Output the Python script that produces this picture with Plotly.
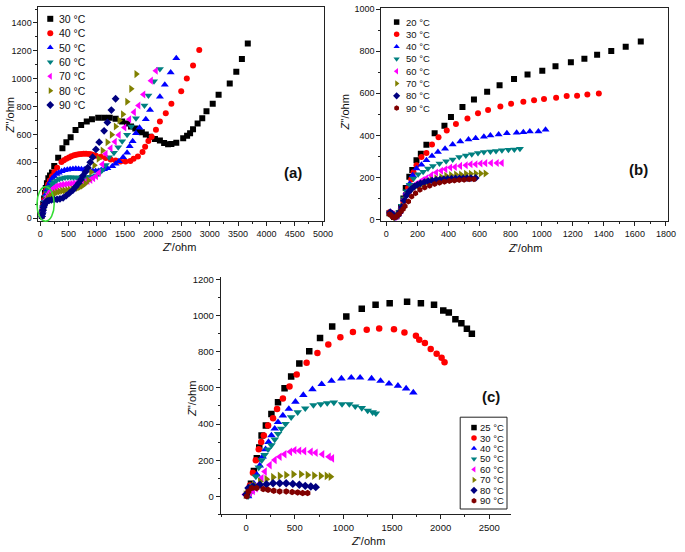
import plotly.graph_objects as go

FONT = "Liberation Sans, Arial, sans-serif"
AX = "#222222"

# ---------------- data: panel (a) ----------------
A_LABELS = ["30 °C", "40 °C", "50 °C", "60 °C", "70 °C", "80 °C", "90 °C"]
A30_X = [25, 35, 45, 55, 70, 85, 100, 120, 145, 175, 209, 249, 319, 394, 464, 539, 626, 725, 824, 916, 1027, 1131, 1230, 1334, 1450, 1537, 1607, 1682, 1740, 1798, 1868, 1943, 2030, 2117, 2192, 2262, 2320, 2407, 2529, 2598, 2651, 2703, 2784, 2866, 2941, 3051, 3155, 3352, 3468, 3567, 3671]
A30_Y = [15, 40, 70, 100, 140, 180, 215, 250, 285, 305, 326, 373, 432, 501, 544, 579, 631, 667, 693, 709, 719, 720, 720, 712, 692, 678, 657, 643, 626, 615, 600, 584, 567, 556, 539, 530, 532, 541, 572, 591, 608, 638, 678, 716, 766, 821, 885, 965, 1050, 1142, 1253]
A40_X = [30, 40, 55, 70, 90, 110, 140, 170, 210, 250, 300, 377, 420, 464, 510, 551, 600, 638, 680, 725, 770, 812, 860, 899, 940, 986, 1073, 1160, 1247, 1334, 1421, 1508, 1595, 1653, 1728, 1810, 1856, 1914, 1972, 2047, 2117, 2221, 2320, 2494, 2593, 2703, 2813]
A40_Y = [20, 50, 90, 130, 170, 200, 240, 270, 300, 330, 360, 402, 415, 425, 435, 444, 450, 454, 458, 460, 462, 462, 460, 458, 452, 447, 440, 430, 420, 412, 405, 405, 410, 425, 442, 473, 511, 553, 584, 634, 693, 752, 820, 910, 1002, 1095, 1206]
A50_X = [35, 45, 60, 80, 100, 125, 150, 180, 215, 250, 290, 330, 380, 430, 480, 530, 580, 630, 680, 730, 780, 830, 880, 930, 980, 1030, 1080, 1130, 1189, 1276, 1334, 1392, 1467, 1537, 1583, 1636, 1694, 1757, 1868, 1943, 2117, 2204, 2308, 2407]
A50_Y = [20, 50, 90, 130, 170, 205, 235, 260, 285, 300, 315, 325, 335, 342, 347, 350, 352, 353, 352, 350, 348, 345, 342, 340, 338, 337, 345, 350, 358, 372, 390, 407, 437, 468, 515, 551, 608, 648, 709, 775, 870, 957, 1045, 1147]
A60_X = [35, 45, 60, 80, 100, 125, 150, 180, 215, 250, 290, 340, 390, 440, 490, 540, 590, 640, 690, 740, 790, 840, 890, 940, 990, 1040, 1100, 1160, 1218, 1305, 1380, 1450, 1537, 1612, 1694, 1844, 1914, 2013, 2117]
A60_Y = [20, 45, 80, 115, 150, 180, 205, 225, 245, 258, 270, 280, 286, 290, 292, 292, 291, 290, 290, 290, 291, 293, 296, 300, 307, 318, 345, 380, 437, 468, 508, 551, 598, 657, 716, 808, 879, 981, 1069]
A70_X = [35, 45, 60, 80, 100, 125, 150, 180, 215, 250, 290, 340, 390, 440, 490, 540, 590, 640, 690, 740, 790, 840, 890, 940, 990, 1040, 1100, 1160, 1247, 1322, 1392, 1491, 1578, 1660, 1740, 1827, 1961, 2047]
A70_Y = [20, 40, 70, 100, 130, 155, 175, 192, 207, 218, 227, 233, 238, 241, 244, 246, 248, 250, 253, 256, 260, 266, 274, 285, 300, 325, 385, 461, 501, 548, 596, 650, 709, 760, 808, 887, 986, 1057]
A80_X = [30, 40, 55, 70, 90, 110, 135, 160, 190, 225, 260, 300, 345, 390, 435, 480, 525, 570, 615, 660, 705, 750, 800, 850, 900, 957, 1032, 1102, 1189, 1264, 1334, 1400, 1462, 1537, 1607, 1699]
A80_Y = [15, 35, 60, 85, 105, 122, 137, 150, 160, 170, 178, 185, 190, 195, 198, 200, 202, 205, 210, 215, 222, 232, 248, 270, 330, 378, 425, 485, 544, 598, 657, 700, 745, 834, 927, 1033]
A90_X = [30, 40, 50, 60, 70, 80, 95, 110, 130, 160, 200, 250, 300, 350, 406, 460, 520, 580, 630, 680, 720, 754, 800, 841, 885, 928, 986, 1044, 1131, 1189, 1259, 1334]
A90_Y = [10, 30, 55, 75, 90, 100, 110, 118, 123, 127, 130, 132, 134, 138, 145, 160, 180, 201, 225, 250, 275, 303, 330, 362, 400, 437, 492, 544, 626, 686, 775, 856]

# ---------------- data: panel (b) ----------------
B_LABELS = ["20 °C", "30 °C", "40 °C", "50 °C", "60 °C", "70 °C", "80 °C", "90 °C"]
B20_X = [20, 35, 50, 65, 80, 95, 110, 125, 148, 167, 194, 222, 258, 311, 374, 416, 490, 564, 649, 729, 822, 909, 1004, 1089, 1188, 1275, 1357, 1448, 1541, 1638]
B20_Y = [30, 25, 12, 15, 30, 60, 100, 150, 203, 235, 282, 313, 355, 410, 446, 488, 535, 571, 607, 639, 668, 689, 707, 729, 748, 764, 783, 801, 822, 847]
B30_X = [20, 35, 50, 65, 80, 95, 110, 125, 140, 160, 175, 194, 226, 258, 294, 336, 389, 448, 522, 590, 655, 734, 803, 882, 951, 1015, 1093, 1161, 1228, 1294, 1368]
B30_Y = [35, 30, 15, 18, 30, 55, 85, 120, 150, 190, 225, 258, 297, 316, 357, 391, 423, 454, 480, 505, 521, 537, 551, 560, 567, 573, 579, 587, 588, 595, 599]
B40_X = [25, 40, 55, 70, 85, 100, 115, 130, 150, 170, 194, 226, 258, 294, 332, 378, 427, 476, 529, 575, 628, 670, 723, 776, 839, 882, 924, 979, 1025]
B40_Y = [35, 28, 15, 20, 35, 60, 95, 130, 170, 210, 243, 261, 282, 302, 321, 336, 357, 371, 380, 387, 394, 399, 404, 410, 413, 415, 419, 419, 427]
B50_X = [25, 40, 55, 70, 85, 100, 115, 130, 150, 175, 205, 237, 268, 300, 342, 385, 427, 469, 512, 550, 590, 628, 670, 706, 744, 786, 824, 860]
B50_Y = [30, 25, 12, 18, 35, 65, 100, 135, 165, 195, 215, 227, 243, 254, 266, 277, 286, 297, 305, 310, 316, 321, 324, 326, 329, 332, 333, 336]
B60_X = [25, 40, 55, 70, 85, 100, 115, 130, 150, 170, 190, 215, 235, 258, 290, 321, 353, 381, 412, 442, 476, 512, 543, 575, 607, 638, 674, 712, 744]
B60_Y = [30, 25, 12, 18, 35, 60, 95, 120, 140, 155, 168, 178, 188, 196, 211, 224, 232, 239, 247, 250, 255, 258, 263, 263, 266, 268, 269, 269, 269]
B70_X = [25, 40, 55, 70, 85, 100, 115, 130, 150, 170, 190, 212, 237, 264, 290, 321, 353, 385, 416, 448, 480, 512, 543, 575, 607, 638]
B70_Y = [30, 22, 12, 18, 35, 60, 90, 115, 135, 148, 157, 163, 169, 180, 188, 196, 202, 208, 211, 214, 214, 218, 218, 219, 219, 219]
B80_X = [25, 40, 55, 70, 85, 100, 115, 130, 145, 160, 180, 200, 220, 245, 270, 295, 320, 345, 370, 395, 420, 445, 470, 495, 520, 545, 575]
B80_Y = [35, 25, 12, 18, 35, 60, 90, 115, 132, 145, 157, 165, 172, 178, 182, 185, 188, 190, 192, 193, 194, 195, 196, 196, 197, 197, 198]
B90_X = [20, 30, 40, 50, 60, 70, 80, 95, 108, 120, 142, 163, 188, 216, 247, 279, 311, 342, 374, 406, 438, 469, 501, 533, 564]
B90_Y = [25, 20, 12, 10, 12, 18, 25, 38, 50, 63, 86, 110, 125, 141, 152, 161, 169, 175, 180, 183, 185, 188, 189, 191, 192]

# ---------------- data: panel (c) ----------------
C_LABELS = ["25 °C", "30 °C", "40 °C", "50 °C", "60 °C", "70 °C", "80 °C", "90 °C"]
C25_X = [20, 50, 80, 110, 135, 159, 203, 260, 328, 395, 463, 547, 649, 760, 885, 1030, 1189, 1331, 1476, 1655, 1797, 1932, 2027, 2084, 2152, 2213, 2270, 2321]
C25_Y = [10, 70, 140, 210, 270, 337, 392, 456, 520, 598, 662, 735, 802, 875, 939, 995, 1037, 1059, 1068, 1076, 1068, 1059, 1028, 1017, 979, 957, 926, 899]
C30_X = [15, 40, 70, 100, 130, 155, 182, 226, 277, 318, 378, 446, 520, 622, 733, 845, 969, 1098, 1240, 1368, 1520, 1628, 1746, 1780, 1838, 1898, 1959, 2010, 2040]
C30_Y = [10, 60, 130, 200, 260, 300, 337, 392, 432, 483, 541, 607, 674, 738, 793, 839, 879, 908, 921, 928, 924, 906, 888, 866, 848, 815, 789, 766, 742]
C40_X = [20, 50, 80, 110, 140, 170, 200, 230, 260, 294, 328, 378, 439, 507, 588, 682, 777, 878, 980, 1081, 1172, 1290, 1382, 1469, 1561, 1645, 1719]
C40_Y = [0, 30, 70, 120, 170, 220, 260, 300, 337, 374, 410, 447, 483, 523, 560, 592, 620, 638, 651, 656, 656, 651, 638, 623, 611, 596, 574]
C50_X = [20, 45, 70, 100, 130, 160, 190, 225, 260, 294, 328, 361, 405, 463, 530, 608, 692, 767, 834, 902, 986, 1061, 1122, 1189, 1250, 1301, 1334]
C50_Y = [0, 20, 60, 110, 160, 200, 230, 260, 283, 315, 346, 374, 401, 438, 465, 487, 505, 510, 516, 519, 510, 510, 498, 489, 474, 465, 459]
C60_X = [-10, 10, 40, 70, 100, 125, 159, 193, 243, 294, 345, 395, 453, 497, 547, 598, 665, 716, 784, 851, 885]
C60_Y = [10, 15, 20, 30, 45, 64, 100, 137, 173, 201, 219, 233, 246, 255, 252, 250, 246, 241, 233, 219, 210]
C70_X = [-5, 15, 41, 81, 142, 209, 277, 345, 412, 486, 564, 632, 699, 767, 828, 868]
C70_Y = [10, 20, 46, 64, 82, 95, 106, 113, 118, 122, 122, 118, 115, 113, 113, 109]
C80_X = [0, 24, 74, 142, 209, 277, 345, 412, 480, 547, 608, 665, 716]
C80_Y = [10, 46, 55, 64, 67, 73, 73, 73, 69, 64, 58, 55, 51]
C90_X = [7, 24, 57, 108, 176, 226, 284, 345, 412, 473, 530, 581, 632]
C90_Y = [0, 27, 46, 46, 40, 36, 31, 27, 27, 24, 22, 18, 18]

COLORS8 = ["#000000", "#ff0000", "#0000ff", "#008080", "#ff00ff", "#808000", "#000080", "#800000"]
SYMBOLS8 = ["square", "circle", "triangle-up", "triangle-down", "triangle-left",
            "triangle-right", "diamond", "hexagon"]
A_COLORS = COLORS8[:7]
A_SYMBOLS = SYMBOLS8[:7]

A_SERIES = [(A30_X, A30_Y), (A40_X, A40_Y), (A50_X, A50_Y), (A60_X, A60_Y),
            (A70_X, A70_Y), (A80_X, A80_Y), (A90_X, A90_Y)]
B_SERIES = [(B20_X, B20_Y), (B30_X, B30_Y), (B40_X, B40_Y), (B50_X, B50_Y),
            (B60_X, B60_Y), (B70_X, B70_Y), (B80_X, B80_Y), (B90_X, B90_Y)]
C_SERIES = [(C25_X, C25_Y), (C30_X, C30_Y), (C40_X, C40_Y), (C50_X, C50_Y),
            (C60_X, C60_Y), (C70_X, C70_Y), (C80_X, C80_Y), (C90_X, C90_Y)]

W, H = 685, 552
fig = go.Figure()


def add_panel(series, labels, colors, symbols, xa, ya, size):
    for (xs, ys), lab, col, sym in zip(series, labels, colors, symbols):
        s = size + (1 if sym.startswith("triangle") else 0)
        fig.add_trace(go.Scatter(
            x=xs, y=ys, mode="markers", name=lab, xaxis=xa, yaxis=ya,
            showlegend=False,
            marker=dict(symbol=sym, color=col, size=s, line=dict(width=0))))


add_panel(A_SERIES, A_LABELS, A_COLORS, A_SYMBOLS, "x", "y", 6)
add_panel(B_SERIES, B_LABELS, COLORS8, SYMBOLS8, "x2", "y2", 6)
add_panel(C_SERIES, C_LABELS, COLORS8, SYMBOLS8, "x3", "y3", 6.5)


def px_dom_x(a, b):
    return [a / W, b / W]


def px_dom_y(top, bottom):
    return [1 - bottom / H, 1 - top / H]


def axis(dom, rng, dtick, minor, mirror, anchor, tsize):
    return dict(domain=dom, range=rng, dtick=dtick, tick0=0, ticks="outside",
                ticklen=4, tickwidth=1, tickcolor=AX, showline=True,
                linecolor=AX, linewidth=1, mirror=mirror, showgrid=False,
                zeroline=False, anchor=anchor, fixedrange=True,
                tickfont=dict(size=tsize, family=FONT, color="#111111"),
                minor=dict(ticks="outside", ticklen=2, dtick=minor,
                           tick0=0, tickcolor=AX, showgrid=False))


layout = dict(
    width=W, height=H, margin=dict(l=0, r=0, t=0, b=0),
    paper_bgcolor="white", plot_bgcolor="rgba(0,0,0,0)", showlegend=False,
    font=dict(family=FONT, color="#111111"),
    xaxis=axis(px_dom_x(38, 328), [-30, 5022], 500, 250, True, "y", 9),
    yaxis=axis(px_dom_y(3, 220), [-23, 1515], 200, 100, True, "x", 9),
    xaxis2=axis(px_dom_x(386, 677), [-32, 1814], 200, 100, True, "y2", 9),
    yaxis2=axis(px_dom_y(4, 220), [-8, 1006], 200, 100, True, "x2", 9),
    xaxis3=axis(px_dom_x(223, 518), [-261, 2728], 500, 250, False, "y3", 9.5),
    yaxis3=axis(px_dom_y(277, 517), [-100, 1210], 200, 100, False, "x3", 9.5),
    xaxis4=dict(domain=[0, 1], range=[0, W], visible=False, anchor="y4", fixedrange=True),
    yaxis4=dict(domain=[0, 1], range=[H, 0], visible=False, anchor="x4", fixedrange=True),
)

annotations = []
shapes = []


def txt(x, y, s, size, angle=0, bold=False, anchor="center"):
    annotations.append(dict(
        x=x, y=y, xref="x4", yref="y4", text=("<b>%s</b>" % s) if bold else s,
        showarrow=False, textangle=angle, xanchor=anchor, yanchor="middle",
        font=dict(size=size, family=FONT, color="#111111")))


# axis titles
txt(181, 246, "<i>Z</i>'/ohm", 11)
txt(9, 113, "<i>Z</i>''/ohm", 11, angle=-90)
txt(532, 247, "<i>Z</i>'/ohm", 11)
txt(349, 110, "<i>Z</i>''/ohm", 11, angle=-90)
txt(372, 544, "<i>Z</i>'/ohm", 11)
txt(194, 400, "<i>Z</i>''/ohm", 11, angle=-90)

# panel labels
txt(296, 171, "(a)", 15, bold=True)
txt(647, 168, "(b)", 15, bold=True)
txt(497, 398, "(c)", 15, bold=True)


# custom legends (compact, as in the figure)
def legend(labels, colors, symbols, mx, tx, y0, step, msize, fsize):
    ys = [y0 + i * step for i in range(len(labels))]
    fig.add_trace(go.Scatter(
        x=[mx] * len(labels), y=ys, mode="markers", xaxis="x4", yaxis="y4",
        showlegend=False, hoverinfo="skip", cliponaxis=False,
        marker=dict(symbol=symbols, color=colors, size=msize, line=dict(width=0))))
    for lab, yy in zip(labels, ys):
        txt(tx, yy, lab, fsize, anchor="left")


legend(A_LABELS, A_COLORS, A_SYMBOLS, 50, 57, 15, 14.55, 6, 10.5)
legend(B_LABELS, COLORS8, SYMBOLS8, 401.5, 408.5, 18.3, 12.45, 5.5, 9.5)
legend(C_LABELS, COLORS8, SYMBOLS8, 480, 484, 429, 10.6, 5.5, 9.5)

shapes.append(dict(type="rect", xref="x4", yref="y4", x0=466, x1=513.5, y0=418.5, y1=511.5,
                   line=dict(color=AX, width=1), fillcolor="rgba(0,0,0,0)"))
# green ellipse highlighting the high-frequency region in (a)
shapes.append(dict(type="circle", xref="x4", yref="y4", x0=36.5, x1=54, y0=185, y1=220,
                   line=dict(color="#33dd33", width=1.5)))

layout["annotations"] = annotations
layout["shapes"] = shapes
fig.update_layout(**layout)
fig.write_html("out.html", config={"displayModeBar": False, "staticPlot": True},
               post_script="document.body.style.margin='0';document.body.style.overflow='hidden';")
